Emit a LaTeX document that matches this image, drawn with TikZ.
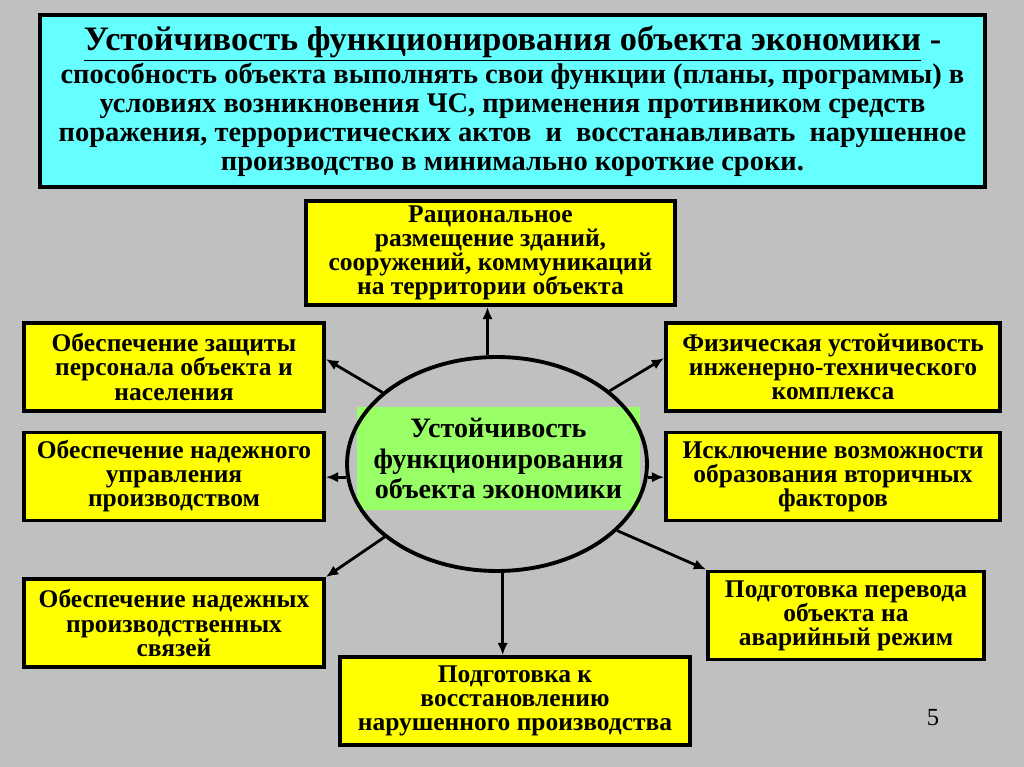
\documentclass[tikz,border=0pt]{standalone}
\usepackage{fontspec}
\setmainfont{Liberation Serif}
\usepackage{xcolor}
\usepackage{tikz}
\usetikzlibrary{shapes.geometric, arrows.meta, calc}

\definecolor{slidegray}{HTML}{C0C0C0}
\definecolor{headcyan}{HTML}{66FFFF}
\definecolor{boxyellow}{HTML}{FFFF00}
\definecolor{coregreen}{HTML}{99FF66}

\begin{document}
\begin{tikzpicture}[
    x=0.02cm, y=-0.02cm,
    hbox/.style={rectangle, draw=black, fill=headcyan, line width=2.6pt, align=center, inner sep=0pt, minimum width=18.9cm, minimum height=3.44cm, font=\bfseries\fontsize{16.2}{16.5}\selectfont},
    ybox/.style={rectangle, draw=black, fill=boxyellow, line width=2.2pt, align=center, inner sep=0pt, minimum height=1.76cm, font=\bfseries\fontsize{14.5}{13.7}\selectfont},
    cnode/.style={rectangle, fill=coregreen, align=center, inner sep=0pt, minimum width=5.66cm, minimum height=2.06cm, font=\bfseries\fontsize{16}{17.6}\selectfont},
    enode/.style={ellipse, draw=black, line width=2.2pt, inner sep=0pt, minimum width=6cm, minimum height=4.28cm},
    arr/.style={-{Latex[length=7pt,width=6pt]}, line width=1.6pt, color=black}
]

\fill[slidegray] (0,0) rectangle (1024,767);

\node[hbox] (def) at (512.5,101) {{\fontsize{19.5}{17}\selectfont\underline{Устойчивость функционирования объекта экономики} -}\\способность объекта выполнять свои функции (планы, программы) в\\условиях возникновения ЧС, применения противником средств\\поражения, террористических актов \ и \ восстанавливать \ нарушенное\\производство в минимально короткие сроки.};

\node[ybox, minimum width=7.38cm, minimum height=2.08cm] (rat) at (490.5,253) {Рациональное\\размещение зданий,\\сооружений, коммуникаций\\на территории объекта};
\node[ybox, minimum width=6cm] (staff) at (174,367) {Обеспечение защиты\\персонала объекта и\\населения};
\node[ybox, minimum width=6cm] (ctrl) at (174,476.5) {Обеспечение надежного\\управления\\производством};
\node[ybox, minimum width=6cm] (links) at (174,623) {Обеспечение надежных\\производственных\\связей};
\node[ybox, minimum width=6.68cm] (phys) at (833,367) {Физическая устойчивость\\инженерно-технического\\комплекса};
\node[ybox, minimum width=6.68cm] (second) at (833,476.5) {Исключение возможности\\образования вторичных\\факторов};
\node[ybox, minimum width=5.52cm] (emerg) at (846,615.5) {Подготовка перевода\\объекта на\\аварийный режим};
\node[ybox, minimum width=7cm] (restore) at (515,701) {Подготовка к\\восстановлению\\нарушенного производства};

\node[cnode] (core) at (498.5,458.5) {Устойчивость\\функционирования\\объекта экономики};
\node[enode] (ell) at (497,464) {};

\node[font=\fontsize{14}{16}\selectfont] (pnum) at (933,718) {5};

\draw[arr] (ell.95.5) -- (ell.95.5 |- rat.south);
\draw[arr] (ell.148) -- (staff.3);
\draw[arr] (ell.185) -- (ell.185 -| ctrl.east);
\draw[arr] (ell.213) -- (links.north east);
\draw[arr] (ell.33) -- (phys.177);
\draw[arr] (ell.-5) -- (ell.-5 -| second.west);
\draw[arr] (ell.-29) -- (emerg.north west);
\draw[arr] (ell.-87) -- (ell.-87 |- restore.north);

\end{tikzpicture}
\end{document}
